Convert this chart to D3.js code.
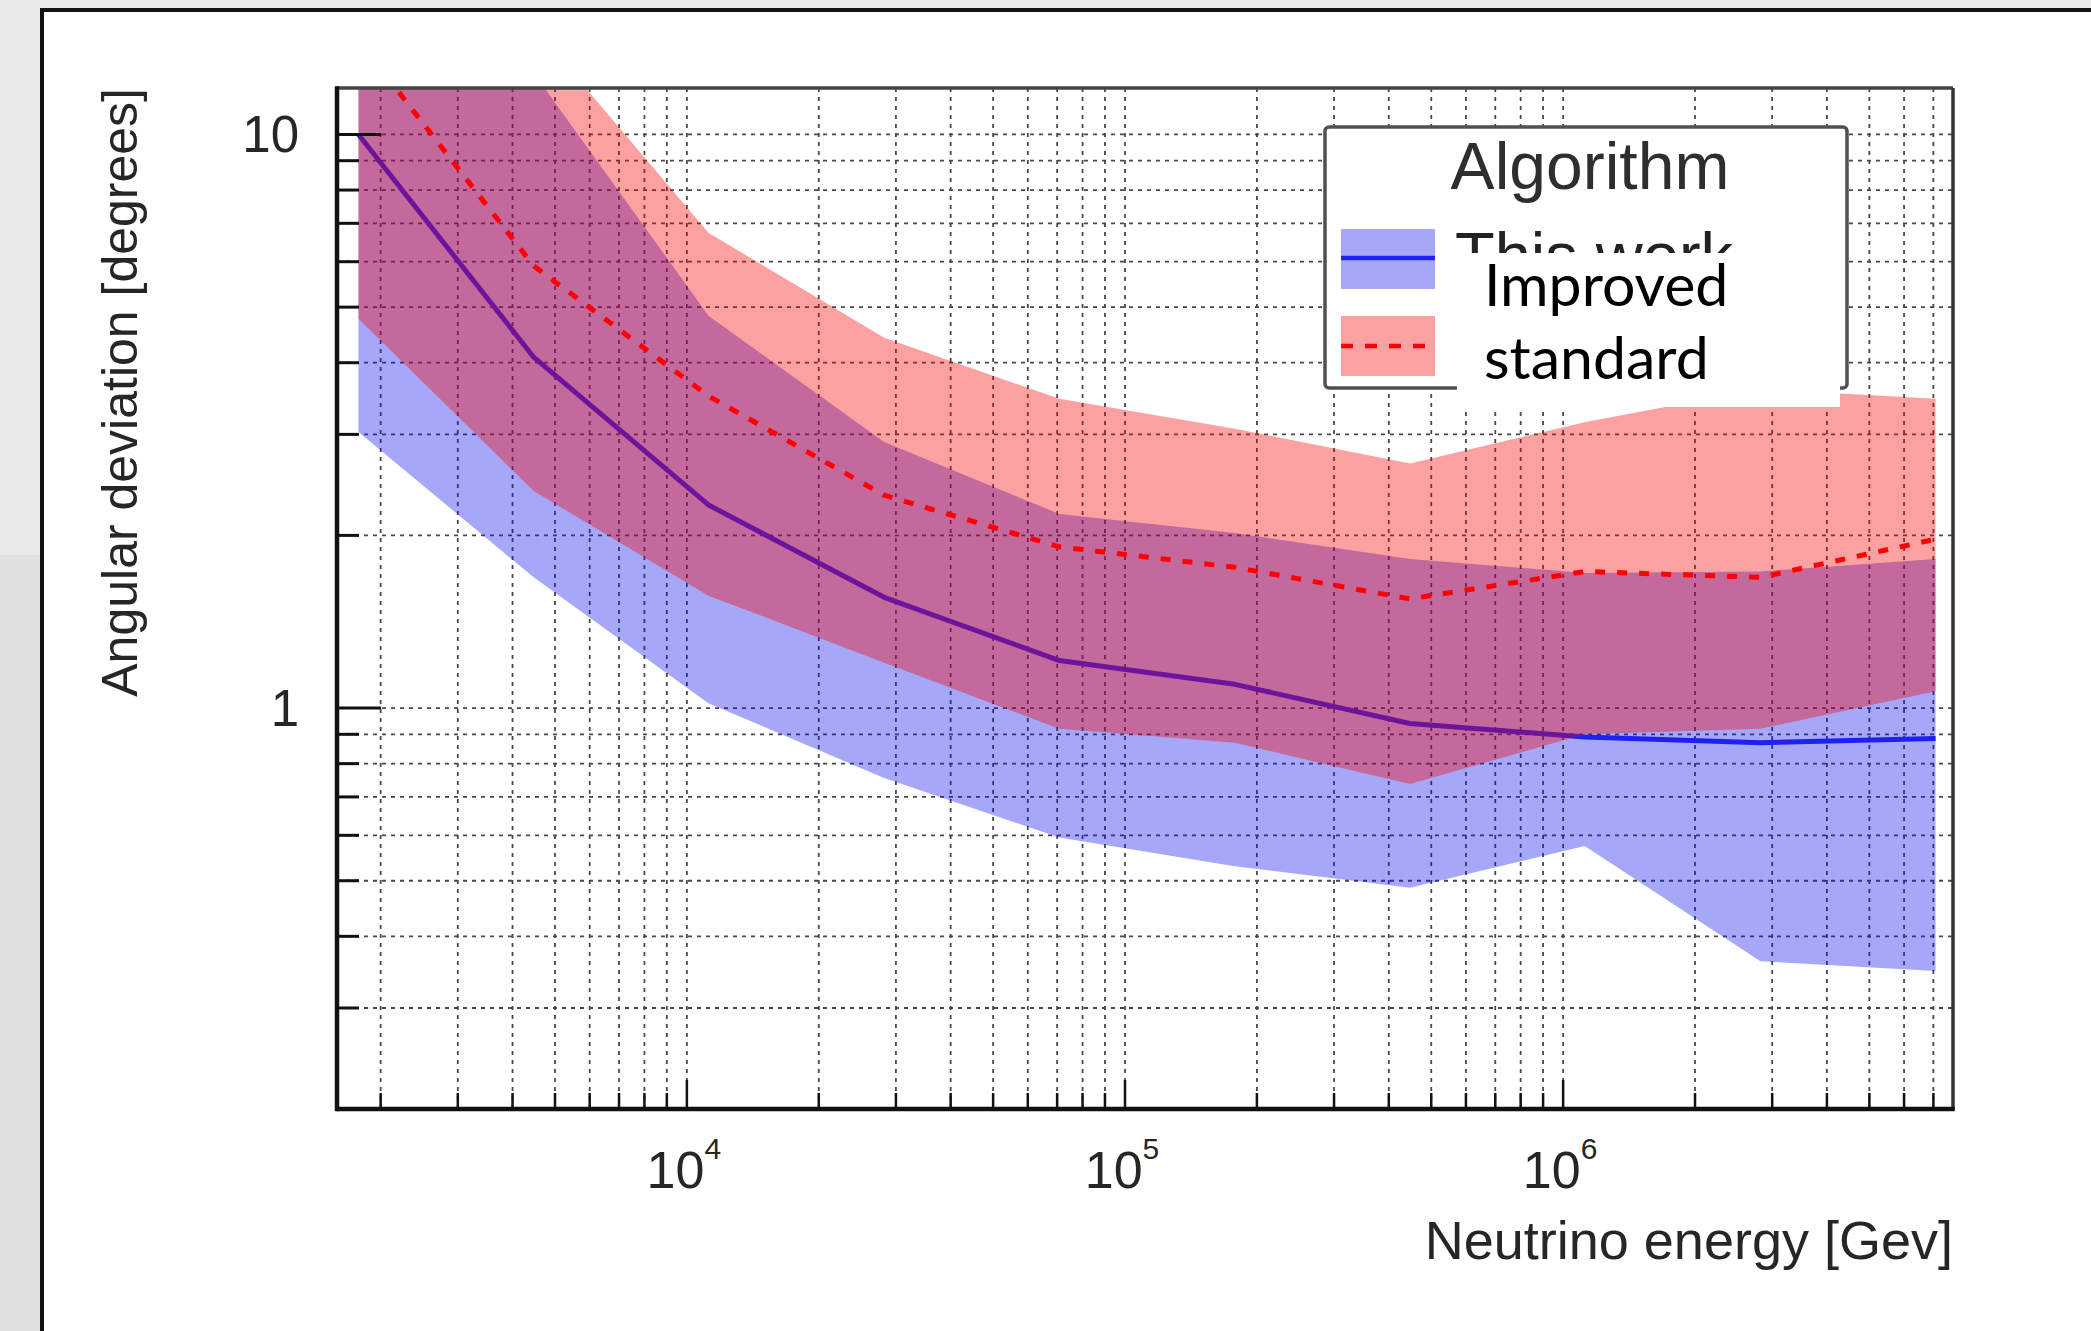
<!DOCTYPE html>
<html>
<head>
<meta charset="utf-8">
<script src="https://cdn.jsdelivr.net/npm/d3@7"></script>
<style>
  html, body { margin: 0; padding: 0; background: #ffffff; }
  svg { display: block; }
</style>
</head>
<body>
<script>
// ---------- data ----------
const energies        = [1780, 4470, 11200, 28200, 70800, 178000, 447000, 1120000, 2820000, 7080000];
const thisWorkMedian  = [10.0, 4.09, 2.26, 1.56, 1.21, 1.10, 0.94, 0.89, 0.87, 0.885];
const thisWorkLow     = [3.03, 1.69, 1.02, 0.755, 0.595, 0.53, 0.486, 0.575, 0.362, 0.348];
const thisWorkHigh    = [25, 12.8, 4.83, 2.91, 2.18, 2.02, 1.82, 1.72, 1.73, 1.82];
const standardMedian  = [14.6, 5.9, 3.5, 2.35, 1.91, 1.76, 1.55, 1.73, 1.69, 1.97];
const standardLow     = [4.77, 2.39, 1.57, 1.2, 0.92, 0.87, 0.737, 0.90, 0.92, 1.07];
const standardHigh    = [30, 15.4, 6.74, 4.42, 3.46, 3.07, 2.67, 3.15, 3.6, 3.46];

const xMajorTicks  = [1e4, 1e5, 1e6];
const xMajorLabels = [["10", "4"], ["10", "5"], ["10", "6"]];
const yMajorTicks  = [1, 10];
const yMajorLabels = ["1", "10"];
const xTitle = "Neutrino energy [Gev]";
const yTitle = "Angular deviation [degrees]";
const legendTitle = "Algorithm";
const legendLabels = ["This work"];
const overlayLabels = ["Improved", "standard"];

// ---------- layout ----------
const W = 2091, H = 1331;
const plot = { left: 337, right: 1953, top: 88, bottom: 1109 };
const ROOTFONT = "'Liberation Sans', Arial, Helvetica, sans-serif";
const blueFill = "rgba(10,10,235,0.36)";
const redFill  = "rgba(245,0,0,0.37)";
const blueLine = "#2020f5";
const redLine  = "#ff0000";

const svg = d3.select("body").append("svg")
  .attr("width", W).attr("height", H);

// outer page / frame
svg.append("rect").attr("x", 0).attr("y", 0).attr("width", W).attr("height", H).attr("fill", "#e9e9e9");
svg.append("rect").attr("x", 0).attr("y", 555).attr("width", 42).attr("height", H - 555).attr("fill", "#e1e1e1");
svg.append("rect").attr("x", 42).attr("y", 10).attr("width", W - 42).attr("height", H - 10).attr("fill", "#ffffff");
svg.append("line").attr("x1", 42).attr("x2", W).attr("y1", 10).attr("y2", 10)
  .attr("stroke", "#111").attr("stroke-width", 4);
svg.append("line").attr("x1", 42).attr("x2", 42).attr("y1", 8).attr("y2", H)
  .attr("stroke", "#111").attr("stroke-width", 4);

// scales
const x = d3.scaleLog().domain([1590, 7.76e6]).range([plot.left, plot.right]);
const y = d3.scaleLog().domain([0.2, 12.05]).range([plot.bottom, plot.top]);

svg.append("clipPath").attr("id", "clip").append("rect")
  .attr("x", plot.left).attr("y", plot.top)
  .attr("width", plot.right - plot.left).attr("height", plot.bottom - plot.top);

// grid
const xTicksAll = x.ticks().filter(v => x(v) > plot.left + 2 && x(v) < plot.right - 2);
const yTicksAll = y.ticks().filter(v => y(v) < plot.bottom - 2 && y(v) > plot.top + 2);
const grid = svg.append("g").attr("stroke", "#2a2a2a").attr("stroke-width", 1.8)
  .attr("stroke-dasharray", "4 5").attr("opacity", 0.85);
grid.selectAll("line.v").data(xTicksAll).join("line").attr("class", "v")
  .attr("x1", d => x(d)).attr("x2", d => x(d))
  .attr("y1", plot.top).attr("y2", plot.bottom);
grid.selectAll("line.h").data(yTicksAll).join("line").attr("class", "h")
  .attr("x1", plot.left).attr("x2", plot.right)
  .attr("y1", d => y(d)).attr("y2", d => y(d));

// series
const idx = d3.range(energies.length);
const area = (lo, hi) => d3.area()
  .x(i => x(energies[i])).y0(i => y(lo[i])).y1(i => y(hi[i]));
const line = (vals) => d3.line().x(i => x(energies[i])).y(i => y(vals[i]));

const gData = svg.append("g").attr("clip-path", "url(#clip)");
gData.append("path").datum(idx).attr("d", area(thisWorkLow, thisWorkHigh))
  .attr("fill", blueFill);
gData.append("path").datum(idx).attr("d", line(thisWorkMedian))
  .attr("fill", "none").attr("stroke", blueLine).attr("stroke-width", 5)
  .attr("stroke-linejoin", "round");
gData.append("path").datum(idx).attr("d", area(standardLow, standardHigh))
  .attr("fill", redFill);
gData.append("path").datum(idx).attr("d", line(standardMedian))
  .attr("fill", "none").attr("stroke", redLine).attr("stroke-width", 5)
  .attr("stroke-dasharray", "10 12");

// frame
svg.append("line").attr("x1", plot.left).attr("x2", plot.right).attr("y1", plot.top).attr("y2", plot.top)
  .attr("stroke", "#444").attr("stroke-width", 3.5);
svg.append("line").attr("x1", plot.right).attr("x2", plot.right).attr("y1", plot.top).attr("y2", plot.bottom)
  .attr("stroke", "#333").attr("stroke-width", 3.5);

// axes (ticks inside)
const isMajor = v => Math.abs(Math.log10(v) - Math.round(Math.log10(v))) < 1e-6;
const axX = svg.append("g").attr("stroke", "#111").attr("stroke-width", 2.5);
axX.selectAll("line").data(xTicksAll).join("line")
  .attr("x1", d => x(d)).attr("x2", d => x(d))
  .attr("y1", plot.bottom).attr("y2", d => plot.bottom - (isMajor(d) ? 29 : 16));
const axY = svg.append("g").attr("stroke", "#111").attr("stroke-width", 3);
axY.selectAll("line").data(yTicksAll).join("line")
  .attr("x1", plot.left).attr("x2", d => plot.left + (isMajor(d) ? 44 : 22))
  .attr("y1", d => y(d)).attr("y2", d => y(d));
svg.append("line").attr("x1", plot.left).attr("x2", plot.right + 1.75).attr("y1", plot.bottom).attr("y2", plot.bottom)
  .attr("stroke", "#111").attr("stroke-width", 4.5);
svg.append("line").attr("x1", plot.left).attr("x2", plot.left).attr("y1", plot.top - 1.75).attr("y2", plot.bottom + 2.25)
  .attr("stroke", "#111").attr("stroke-width", 4.5);

// tick labels
const xl = svg.append("g").attr("font-family", ROOTFONT).attr("fill", "#262626");
xMajorTicks.forEach((v, i) => {
  const t = xl.append("text").attr("x", x(v) - 3).attr("y", 1188)
    .attr("text-anchor", "middle").attr("font-size", 52);
  t.append("tspan").text(xMajorLabels[i][0]);
  t.append("tspan").attr("font-size", 30).attr("dy", -29).text(xMajorLabels[i][1]);
});
const yl = svg.append("g").attr("font-family", ROOTFONT).attr("fill", "#262626");
yMajorTicks.forEach((v, i) => {
  yl.append("text").attr("x", 299).attr("y", y(v) + 18)
    .attr("text-anchor", "end").attr("font-size", 51).text(yMajorLabels[i]);
});

// axis titles
svg.append("text").attr("x", plot.right).attr("y", 1259)
  .attr("text-anchor", "end").attr("font-family", ROOTFONT).attr("font-size", 54)
  .attr("fill", "#262626").text(xTitle);
svg.append("text").attr("transform", `translate(137,${plot.top}) rotate(-90)`)
  .attr("text-anchor", "end").attr("font-family", ROOTFONT).attr("font-size", 50)
  .attr("fill", "#262626").text(yTitle);

// legend
const lg = svg.append("g");
lg.append("rect").attr("x", 1325).attr("y", 127).attr("width", 522).attr("height", 261)
  .attr("rx", 4).attr("fill", "#ffffff").attr("stroke", "#505050").attr("stroke-width", 3.5);
lg.append("text").attr("x", 1590).attr("y", 189).attr("text-anchor", "middle")
  .attr("font-family", ROOTFONT).attr("font-size", 66).attr("fill", "#2e2e2e").text(legendTitle);
lg.append("rect").attr("x", 1341).attr("y", 229).attr("width", 94).attr("height", 60).attr("fill", blueFill);
lg.append("line").attr("x1", 1341).attr("x2", 1435).attr("y1", 258).attr("y2", 258)
  .attr("stroke", blueLine).attr("stroke-width", 4.5);
lg.append("rect").attr("x", 1341).attr("y", 316).attr("width", 94).attr("height", 60).attr("fill", redFill);
lg.append("line").attr("x1", 1341).attr("x2", 1435).attr("y1", 346).attr("y2", 346)
  .attr("stroke", redLine).attr("stroke-width", 4.5).attr("stroke-dasharray", "12 12");
lg.append("text").attr("x", 1455).attr("y", 278)
  .attr("font-family", ROOTFONT).attr("font-size", 65).attr("fill", "#222").text(legendLabels[0]);

// pasted-over label box
lg.append("rect").attr("x", 1457).attr("y", 253).attr("width", 383).attr("height", 154).attr("fill", "#ffffff");
lg.append("text").attr("x", 1484).attr("y", 306).attr("font-family", "Lato, 'Open Sans', sans-serif")
  .attr("font-size", 59).attr("fill", "#000").text(overlayLabels[0]);
lg.append("text").attr("x", 1484).attr("y", 379).attr("font-family", "Lato, 'Open Sans', sans-serif")
  .attr("font-size", 59).attr("fill", "#000").text(overlayLabels[1]);
</script>
</body>
</html>
